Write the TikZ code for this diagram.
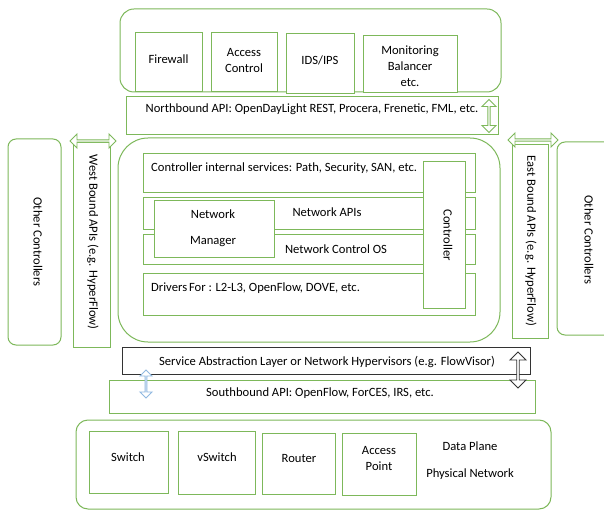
\documentclass[tikz,border=0pt]{standalone}
\usepackage{fontspec}
\setmainfont{Carlito}
\usetikzlibrary{shapes.arrows}
\definecolor{gline}{HTML}{7DB85A}
\definecolor{bline}{HTML}{8FB8E0}
\begin{document}
\begin{tikzpicture}[x=1pt,y=-1pt,
  box/.style={draw=gline,line width=1pt,fill=white,anchor=north west,inner sep=0pt,outer sep=0pt},
  txt/.style={font=\fontsize{12.6}{16}\selectfont,inner sep=0pt,align=center},
  darrow/.style={double arrow,draw=gline,fill=white,line width=0.9pt,double arrow head extend=2.5pt,inner sep=0pt,minimum width=14pt}]
\useasboundingbox (0,0) rectangle (604,510);
\clip (0,0) rectangle (604,510);
% top applications
\node[box,rounded corners=14pt,minimum width=381pt,minimum height=83pt] (apps) at (120,9) {};
\node[box,minimum width=67pt,minimum height=59pt] (fw) at (135,33) {};
\node[box,minimum width=66pt,minimum height=59pt] (ac) at (211,33) {};
\node[box,minimum width=68pt,minimum height=60pt] (ids) at (286,34) {};
\node[box,minimum width=94pt,minimum height=57pt] (mon) at (363,36) {};
\node[txt] (fwt) at (168.5,59) {Firewall};
\node[txt] (act) at (244,61) {Access\\Control};
\node[txt] (idst) at (320,60) {IDS/IPS};
\node[txt] (mont) at (410,66) {Monitoring\\Balancer\\etc.};
% northbound
\node[box,minimum width=372pt,minimum height=38pt] (nb) at (126,97) {};
\node[txt] (nbt) at (312,109) {Northbound API: OpenDayLight REST, Procera, Frenetic, FML, etc.};
\node[darrow,rotate=90,minimum height=33pt] (nba) at (489,116) {};
% side controllers
\node[box,rounded corners=8pt,minimum width=53pt,minimum height=206pt] (ocl) at (8,139) {};
\node[txt,rotate=-90] (oclt) at (38,242) {Other Controllers};
\node[box,minimum width=37pt,minimum height=204pt] (wb) at (73,143) {};
\node[txt,rotate=-90] (wbt) at (93,242) {West Bound APIs (e.g. HyperFlow)};
\node[darrow,minimum height=46pt] (wba) at (93,141) {};
\node[box,rounded corners=8pt,minimum width=60pt,minimum height=193pt] (ocr) at (557,142) {};
\node[txt,rotate=-90] (ocrt) at (589,240) {Other Controllers};
\node[box,minimum width=36pt,minimum height=193pt] (eb) at (512,145) {};
\node[txt,rotate=-90] (ebt) at (531,241) {East Bound APIs (e.g. HyperFlow)};
\node[darrow,minimum height=50pt] (eba) at (533,140) {};
% central controller
\node[box,rounded corners=30pt,minimum width=382pt,minimum height=204pt] (ctl) at (118,138) {};
\node[box,minimum width=332pt,minimum height=39pt] (cis) at (143,154) {};
\node[txt,anchor=west] (cist) at (151,168) {Controller internal services: Path, Security, SAN, etc.};
\node[box,minimum width=332pt,minimum height=32pt] (napi) at (143,198) {};
\node[txt] (napit) at (327,212) {Network APIs};
\node[box,minimum width=332pt,minimum height=30pt] (ncos) at (143,235) {};
\node[txt] (ncost) at (336,249) {Network Control OS};
\node[box,minimum width=120pt,minimum height=57pt] (nm) at (154,201) {};
\node[txt] (nmt1) at (213,214) {Network};
\node[txt] (nmt2) at (213,242) {Manager};
\node[box,minimum width=332pt,minimum height=42pt] (drv) at (143,273) {};
\node[txt,anchor=west] (drvt) at (151,288) {Drivers\hspace{-1pt} For : L2-L3, OpenFlow, DOVE, etc.};
\node[box,minimum width=42pt,minimum height=146pt] (ctr) at (423,162) {};
\node[txt,rotate=-90] (ctrt) at (448,235) {Controller};
% SAL and southbound
\node[box,minimum width=426pt,minimum height=33pt] (sb) at (109,380) {};
\node[txt] (sbt) at (320,393) {Southbound API: OpenFlow, ForCES, IRS, etc.};
\node[box,draw=black!80,minimum width=408pt,minimum height=27pt] (sal) at (122,347) {};
\node[txt] (salt) at (327,362) {Service Abstraction Layer or Network Hypervisors (e.g. FlowVisor)};
\node[darrow,draw=bline,rotate=90,minimum height=28pt,minimum width=12pt] (bla) at (146,384) {};
\node[darrow,draw=black!80,rotate=90,minimum height=36pt,minimum width=16pt] (bka) at (518,370) {};
% data plane
\node[box,rounded corners=12pt,minimum width=475pt,minimum height=89pt] (dp) at (76,420) {};
\node[box,minimum width=79pt,minimum height=62pt] (sw) at (89,431) {};
\node[txt] (swt) at (128,457) {Switch};
\node[box,minimum width=77pt,minimum height=63pt] (vsw) at (178,431) {};
\node[txt] (vswt) at (217,457) {vSwitch};
\node[box,minimum width=73pt,minimum height=61pt] (rt) at (262,433) {};
\node[txt] (rtt) at (299,459) {Router};
\node[box,minimum width=74pt,minimum height=62pt] (ap) at (342,433) {};
\node[txt] (apt) at (379,459) {Access\\Point};
\node[txt] (dpt) at (470,446) {Data Plane};
\node[txt] (pnt) at (470,474) {Physical Network};
\end{tikzpicture}
\end{document}
